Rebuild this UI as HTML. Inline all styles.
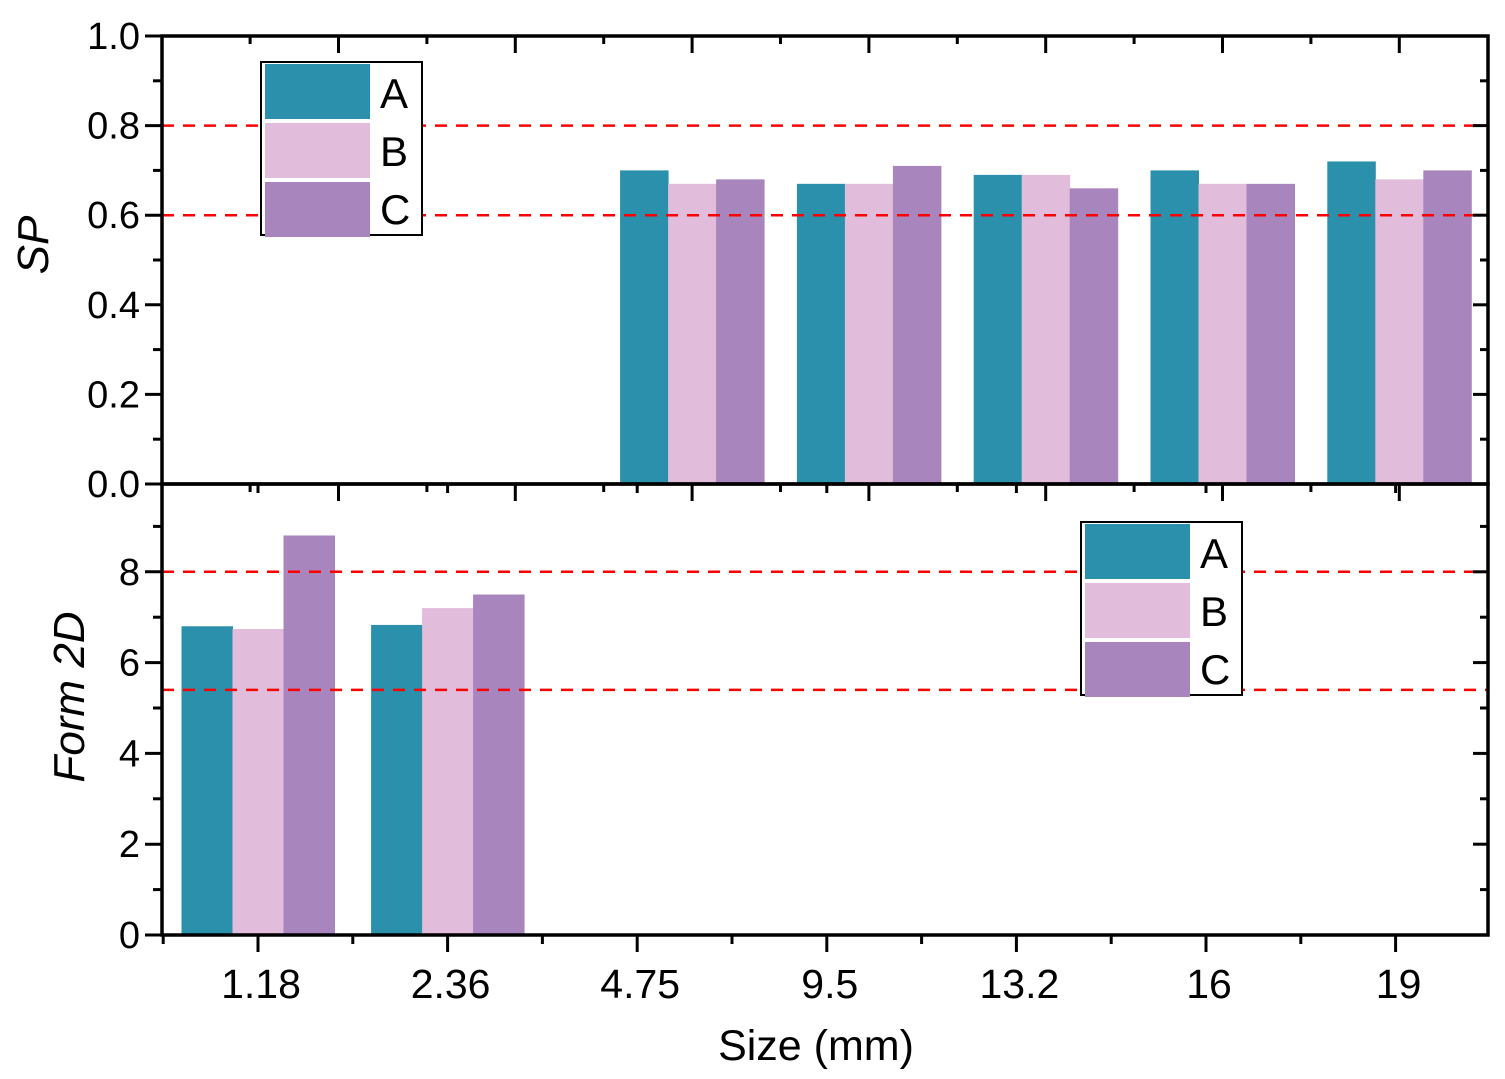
<!DOCTYPE html>
<html><head><meta charset="utf-8"><style>body{margin:0;background:#fff}svg{display:block}text{font-family:"Liberation Sans",Arial,sans-serif;fill:#000}</style></head>
<body>
<svg id="chart" width="1505" height="1079" viewBox="0 0 1505 1079" xmlns="http://www.w3.org/2000/svg"></svg>
<script>
const categories = ["1.18","2.36","4.75","9.5","13.2","16","19"];
const series = ["A","B","C"];
const spA = [null,null,0.70,0.67,0.69,0.70,0.72];
const spB = [null,null,0.67,0.67,0.69,0.67,0.68];
const spC = [null,null,0.68,0.71,0.66,0.67,0.70];
const fA = [6.8,6.83,null,null,null,null,null];
const fB = [6.74,7.2,null,null,null,null,null];
const fC = [8.8,7.5,null,null,null,null,null];
const spTicks = [0,0.2,0.4,0.6,0.8,1.0];
const fTicks = [0,2,4,6,8];
const spRefs = [0.8,0.6];
const fRefs = [8,5.4];
const colors = ["#2a90ab","#e2bcdb","#a985be"];

const svg = document.getElementById('chart');
const NS = 'http://www.w3.org/2000/svg';
function el(tag, attrs, parent){const e=document.createElementNS(NS,tag);for(const k in attrs)e.setAttribute(k,attrs[k]);(parent||svg).appendChild(e);return e;}

const L=162, R=1488;
const tY0=484, tY1=36;
const ySP = v => tY0 - (v/1.0)*(tY0-tY1);
const xTop = i => 338.5 + i*176.8;
const bY0=935, bY1=484;
const yF = v => bY0 - v*45.4;
const xBot = i => 258 + i*189.6;

function panel(name, yFn, xFn, vals, bw, ticks, minor, fmt, refs, yTop, yBot){
  const g = el('g',{});
  
  
  vals.forEach((arr,s)=>{
    arr.forEach((v,i)=>{
      if(v==null) return;
      const r = el('rect',{x:xFn(i)+(s-1.5)*bw, y:yFn(v), width:bw+0.5, height:yFn(0)-yFn(v), fill:colors[s]}, g);
      
      
    });
  });
  refs.forEach(v=>{
    const l = el('line',{x1:L,x2:R,y1:yFn(v),y2:yFn(v),stroke:'#ff0000','stroke-width':2.5,'stroke-dasharray':'12 9'}, g);
    
    
  });
  ticks.forEach(v=>{
    const y=yFn(v);
    el('line',{x1:L-17,x2:L,y1:y,y2:y,stroke:'#000','stroke-width':3},g);
    el('line',{x1:R-15,x2:R,y1:y,y2:y,stroke:'#000','stroke-width':3},g);
    const t=el('text',{x:L-22,y:y+13,'text-anchor':'end','font-size':38},g);
    t.textContent=fmt(v);
    
    
  });
  minor.forEach(v=>{
    const y=yFn(v);
    el('line',{x1:L-9,x2:L,y1:y,y2:y,stroke:'#000','stroke-width':3},g);
    el('line',{x1:R-8,x2:R,y1:y,y2:y,stroke:'#000','stroke-width':3},g);
  });
  el('rect',{x:L,y:yTop,width:R-L,height:yBot-yTop,fill:'none',stroke:'#000','stroke-width':3.5},g);
  return g;
}
panel('sp-panel', ySP, xTop, [spA,spB,spC], 48, spTicks, [0.1,0.3,0.5,0.7,0.9], v=>v.toFixed(1), spRefs, tY1, tY0);
panel('form2d-panel', yF, xBot, [fA,fB,fC], 51, fTicks, [1,3,5,7,9], v=>String(v), fRefs, bY1, bY0);

for(let i=-1;i<8;i++){
  const maj=xTop(i), mn=maj+88.4;
  [[maj,17],[mn,8]].forEach(([x,len])=>{
    if(x>L+2 && x<R-2){
      el('line',{x1:x,x2:x,y1:tY1,y2:tY1+len,stroke:'#000','stroke-width':3});
      el('line',{x1:x,x2:x,y1:tY0,y2:tY0+len,stroke:'#000','stroke-width':3});
    }
  });
}
for(let i=-1;i<8;i++){
  const maj=xBot(i), mn=maj-94.8;
  if(maj>L && maj<R) el('line',{x1:maj,x2:maj,y1:bY0,y2:bY0+17,stroke:'#000','stroke-width':3});
  if(mn>=L-1 && mn<R) el('line',{x1:mn,x2:mn,y1:bY0,y2:bY0+9,stroke:'#000','stroke-width':3});
  if(maj>L && maj<R) el('line',{x1:maj,x2:maj,y1:bY1,y2:bY1+9,stroke:'#000','stroke-width':3});
}
categories.forEach((c,i)=>{
  const t=el('text',{x:xBot(i)+3,y:998,'text-anchor':'middle','font-size':41});
  t.textContent=c;
  
  
});
let t=el('text',{x:816,y:1060,'text-anchor':'middle','font-size':43});
t.textContent='Size (mm)';


t=el('text',{x:0,y:0,'text-anchor':'middle','font-size':44,'font-style':'italic',transform:'translate(48,245) rotate(-90)'});
t.textContent='SP';


t=el('text',{x:0,y:0,'text-anchor':'middle','font-size':44,'font-style':'italic',transform:'translate(84,697) rotate(-90)'});
t.textContent='Form 2D';



function legend(name,x,y){
  const g=el('g',{});
  
  
  el('rect',{x:x,y:y,width:161,height:173,fill:'#fff',stroke:'#000','stroke-width':2},g);
  series.forEach((s,i)=>{
    el('rect',{x:x+4,y:y+2+i*59,width:105,height:55,fill:colors[i]},g);
    const tt=el('text',{x:x+119,y:y+46+i*58,'font-size':42},g);
    tt.textContent=s;
    
    
  });
}
legend('sp-legend',261,62);
legend('form2d-legend',1081,522);
</script>
</body></html>
